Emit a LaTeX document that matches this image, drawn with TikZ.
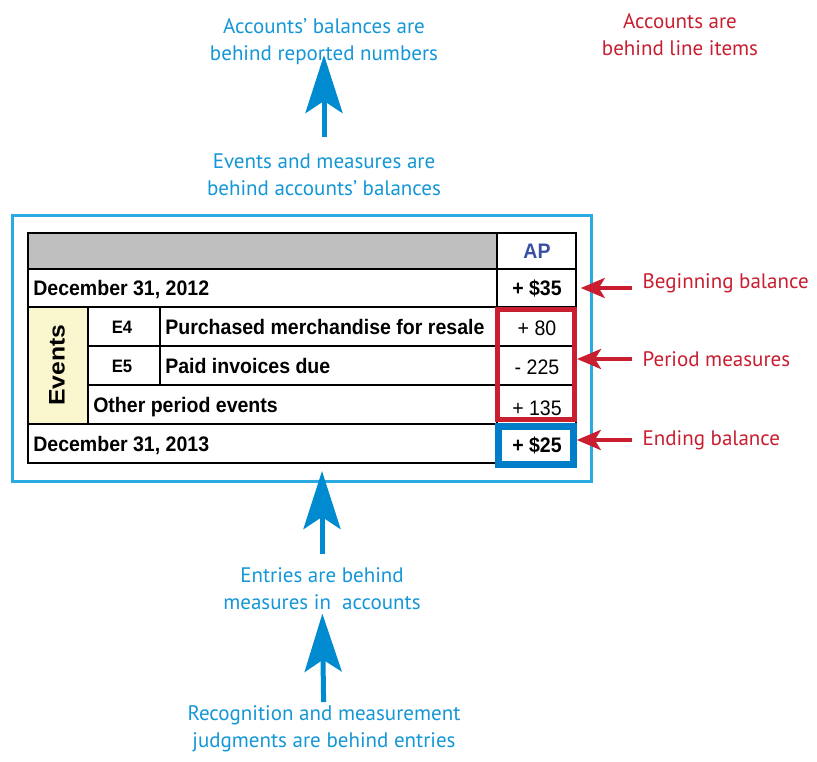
\documentclass[tikz,border=0pt]{standalone}
\usepackage{fontspec}
\setmainfont{Liberation Sans}[FakeStretch=0.93]
\newfontfamily\notefont{PT Sans}
\newfontfamily\widefont{Liberation Sans}[FakeStretch=1.1]
\usepackage{tikz}
\usetikzlibrary{arrows.meta, positioning}
\definecolor{noteblue}{RGB}{20,150,215}
\definecolor{arrowblue}{RGB}{0,138,207}
\definecolor{frameblue}{RGB}{41,171,226}
\definecolor{notered}{RGB}{200,30,48}
\definecolor{boxblue}{RGB}{0,125,200}
\definecolor{evtyellow}{RGB}{250,246,205}
\definecolor{apblue}{RGB}{57,80,165}

\begin{document}
\begin{tikzpicture} [x=1pt, y=-1pt, semithick,
  note/.style ={font=\notefont\fontsize{21}{27}\selectfont, text=noteblue, align=center},
  rnote/.style ={note, text=notered},
  up/.style ={arrowblue, line width=5pt, -{Stealth[length=58pt, width=37pt, inset=12pt]}},
  pointer/.style ={notered, line width=4pt, -{Stealth[length=24pt, width=20pt, inset=6pt]}},
  grid/.style ={line width=2.5pt},
  lbl/.style ={font=\bfseries\fontsize{21}{24}\selectfont, anchor=west, inner sep=0pt, text height=15pt, text depth=0pt},
  code/.style ={lbl, anchor=center, font=\bfseries\fontsize{18}{20}\selectfont, text height=13pt},
  val/.style ={font=\fontsize{21}{24}\selectfont, inner sep=0pt, minimum width=79pt, text height=15pt, text depth=0pt}]
\useasboundingbox (0,0) rectangle (817,762);
\draw[frameblue, line width=3pt] (12,216) rectangle (591,481);
\fill[black!25] (28,233) rectangle (497,269);
\fill[evtyellow] (28,307) rectangle (88,424);
\draw[grid] (28,233) rectangle (576,463);
\foreach \y in {269,307,424} \draw[grid] (28,\y) -- (576,\y);
\foreach \y in {346,385} \draw[grid] (88,\y) -- (576,\y);
\draw[grid] (497,233) -- (497,463);
\draw[grid] (88,307) -- (88,424);
\draw[grid] (160,307) -- (160,385);
% table texts
\node[lbl] (d12) at (33,288) {December 31, 2012};
\node[code] (e4) at (122,327) {E4};
\node[lbl] (pur) at (165,327) {Purchased merchandise for resale};
\node[code] (e5) at (122,366) {E5};
\node[lbl] (pay) at (165,366) {Paid invoices due};
\node[lbl] (oth) at (93,405) {Other period events};
\node[lbl] (d13) at (33,444) {December 31, 2013};
\node[font=\widefont\bfseries\fontsize{22.5}{24}\selectfont, rotate=90] (evts) at (57,365) {Events};
\node[val, font=\bfseries\fontsize{21}{24}\selectfont, text=apblue] (ap) at (537,251) {AP};
\node[val, font=\bfseries\fontsize{21}{24}\selectfont] (v35) at (537,288) {+ \$35};
\node[val] (v80) at (537,328) {+ 80};
\node[val] (v225) at (537,367) {- 225};
\node[val] (v135) at (537,408) {+ 135};
\node[val, font=\bfseries\fontsize{21}{24}\selectfont] (v25) at (537,445) {+ \$25};
\node[draw=notered, line width=5pt, minimum width=77pt, minimum height=110pt] (pbox) at (536,364.5) {};
\node[draw=boxblue, line width=6.5pt, minimum width=75pt, minimum height=38pt] (ebox) at (536,445.5) {};
% notes
\node[note] (bal) at (324,42) {Accounts’ balances are\\behind reported numbers};
\node[note] (evt) at (324,175) {Events and measures are\\behind accounts’ balances};
\node[note] (ent) at (322,589) {Entries are behind\\measures in~ accounts};
\node[note] (rec) at (324,729) {Recognition and measurement\\judgments are behind entries};
\node[rnote] (acc) at (680,35) {Accounts are\\behind line items};
\node[rnote, anchor=west] (lbeg) at (639,283) {Beginning balance};
\node[rnote, anchor=west] (lper) at (639,359) {Period measures};
\node[rnote, anchor=west] (lend) at (639,440) {Ending balance};
\coordinate (tipB) at (322,471);
% arrows
\draw[up, shorten <=13pt, shorten >=13pt] (evt) -- (bal.center);
\draw[up, shorten <=10pt] (ent) -- (tipB);
\draw[up] (rec) -- (ent);
\draw[pointer, shorten <=7pt, shorten >=4pt] (lbeg.west |- v35) -- (v35.east);
\draw[pointer, shorten <=7pt] (lper.west) -- (lper.west -| pbox.east);
\draw[pointer, shorten <=7pt] (lend.west) -- (lend.west -| ebox.east);
\end{tikzpicture}
\end{document}
